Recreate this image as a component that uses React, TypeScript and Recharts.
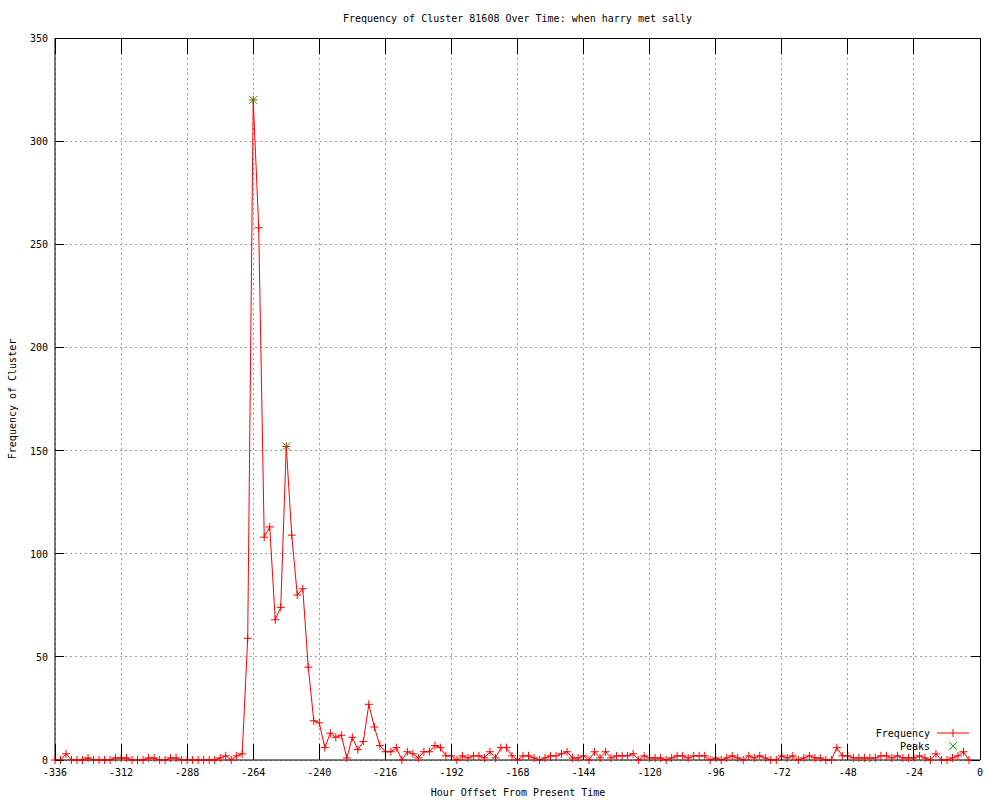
import { CartesianGrid, Legend, Line, LineChart, ReferenceLine, XAxis, YAxis } from "recharts";

// hourly buckets, 2 h apart, starting at -336
const START_HOUR = -336;
const STEP_HOURS = 2;

const frequency = [
  0, 0, 3, 0, 0, 0, 1, 0, 0, 0, 0, 1, 1, 1, 0, 0, 0, 1, 1, 0,
  0, 1, 1, 0, 0, 0, 0, 0, 0, 0, 1, 2, 0, 2, 3, 59, 320, 258, 108, 113,
  68, 74, 152, 109, 80, 83, 45, 19, 18, 6, 13, 11, 12, 1, 11, 5, 9, 27, 16, 7,
  4, 4, 6, 0, 4, 3, 1, 4, 4, 7, 6, 2, 2, 0, 2, 1, 2, 2, 1, 4,
  1, 6, 6, 2, 0, 2, 2, 1, 0, 1, 2, 2, 3, 4, 1, 1, 2, 0, 4, 1,
  4, 1, 2, 2, 2, 3, 0, 2, 1, 1, 1, 0, 1, 2, 2, 1, 2, 2, 2, 0,
  1, 0, 1, 2, 1, 0, 2, 1, 2, 1, 0, 0, 2, 1, 2, 0, 1, 2, 1, 1,
  0, 0, 6, 2, 2, 1, 1, 1, 1, 1, 2, 2, 1, 2, 1, 1, 1, 2, 1, 0,
  3, 0, 0, 1, 2, 4, 0,
];

const peakHours = [-264, -252];
const peakValues = [320, 152];

const xTicks = [-336, -312, -288, -264, -240, -216, -192, -168, -144, -120, -96, -72, -48, -24, 0];
const yTicks = [0, 50, 100, 150, 200, 250, 300, 350];

const data = frequency.map((f, i) => {
  const hour = START_HOUR + i * STEP_HOURS;
  const p = peakHours.indexOf(hour);
  return { hour, freq: f, peak: p >= 0 ? peakValues[p] : null };
});

const TOP = 38;
const BOTTOM = 760;
const LEFT = 55;
const RIGHT = 980;
const FONT = "'DejaVu Sans Mono', monospace";
const RED = "#ff0000";
const GREEN = "#00c000";

function PlusDot(props: any) {
  const { cx, cy } = props;
  if (cx == null || cy == null) return null;
  return <path d={`M${cx - 4},${cy}H${cx + 4}M${cx},${cy - 4}V${cy + 4}`} stroke={RED} strokeWidth={1} fill="none" />;
}

function CrossDot(props: any) {
  const { cx, cy, value } = props;
  if (cx == null || cy == null || value == null) return null;
  return (
    <path d={`M${cx - 4},${cy - 4}L${cx + 4},${cy + 4}M${cx - 4},${cy + 4}L${cx + 4},${cy - 4}`} stroke={GREEN} strokeWidth={1} fill="none" />
  );
}

function XTick(props: any) {
  const { x, payload } = props;
  return (
    <g>
      <line x1={x} y1={BOTTOM} x2={x} y2={BOTTOM - 16} stroke="#000" shapeRendering="crispEdges" />
      <line x1={x} y1={TOP} x2={x} y2={TOP + 16} stroke="#000" shapeRendering="crispEdges" />
      <text x={x} y={BOTTOM + 16} textAnchor="middle" fontFamily={FONT} fontSize={10} fill="#000">
        {payload.value}
      </text>
    </g>
  );
}

function YTick(props: any) {
  const { y, payload } = props;
  return (
    <g>
      <line x1={LEFT} y1={y} x2={LEFT + 9} y2={y} stroke="#000" shapeRendering="crispEdges" />
      <line x1={RIGHT} y1={y} x2={RIGHT - 9} y2={y} stroke="#000" shapeRendering="crispEdges" />
      <text x={LEFT - 7} y={y + 4} textAnchor="end" fontFamily={FONT} fontSize={10} fill="#000">
        {payload.value}
      </text>
    </g>
  );
}

function KeyBox() {
  return (
    <svg width={120} height={30} style={{ overflow: "visible" }}>
      <text x={70} y={12} textAnchor="end" fontFamily={FONT} fontSize={10} fill="#000">Frequency</text>
      <line x1={77} y1={8} x2={109} y2={8} stroke={RED} />
      <path d="M93,4V12" stroke={RED} />
      <text x={70} y={25} textAnchor="end" fontFamily={FONT} fontSize={10} fill="#000">Peaks</text>
      <path d="M89,17L97,25M89,25L97,17" stroke={GREEN} />
    </svg>
  );
}

export default function App() {
  return (
    <div style={{ position: "absolute", left: 0, top: 0, width: 1000, height: 800, background: "#fff" }}>
      <div
        style={{
          position: "absolute",
          left: 0,
          width: 1035,
          top: 13,
          textAlign: "center",
          fontFamily: FONT,
          fontSize: 10,
          lineHeight: "12px",
        }}
      >
        Frequency of Cluster 81608 Over Time: when harry met sally
      </div>
      <LineChart width={1000} height={800} data={data} margin={{ top: TOP, right: 1000 - RIGHT, bottom: 0, left: 0 }}>
        <CartesianGrid stroke="#a0a0a0" strokeDasharray="2 3" shapeRendering="crispEdges" />
        <XAxis
          type="number"
          dataKey="hour"
          domain={[-336, 0]}
          ticks={xTicks}
          height={800 - BOTTOM}
          tickSize={0}
          tickLine={false}
          tick={<XTick />}
          axisLine={{ stroke: "#000" }}
          label={{
            content: () => (
              <text x={518} y={796} textAnchor="middle" fontFamily={FONT} fontSize={10} fill="#000">
                Hour Offset From Present Time
              </text>
            ),
          }}
        />
        <YAxis
          type="number"
          domain={[0, 350]}
          ticks={yTicks}
          width={LEFT}
          tickSize={0}
          tickLine={false}
          tick={<YTick />}
          axisLine={{ stroke: "#000" }}
          label={{
            content: () => (
              <text x={16} y={399} transform="rotate(-90 16 399)" textAnchor="middle" fontFamily={FONT} fontSize={10} fill="#000">
                Frequency of Cluster
              </text>
            ),
          }}
        />
        <ReferenceLine y={350} stroke="#000" shapeRendering="crispEdges" />
        <ReferenceLine x={0} stroke="#000" shapeRendering="crispEdges" />
        <Legend
          layout="horizontal"
          verticalAlign="middle"
          content={() => <KeyBox />}
          wrapperStyle={{ position: "absolute", left: 860, top: 725, width: 120, height: 30 }}
        />
        <Line
          dataKey="freq"
          name="Frequency"
          stroke={RED}
          strokeWidth={1}
          dot={<PlusDot />}
          activeDot={false}
          isAnimationActive={false}
        />
        <Line
          dataKey="peak"
          name="Peaks"
          stroke="none"
          dot={<CrossDot />}
          activeDot={false}
          isAnimationActive={false}
        />
      </LineChart>
    </div>
  );
}
